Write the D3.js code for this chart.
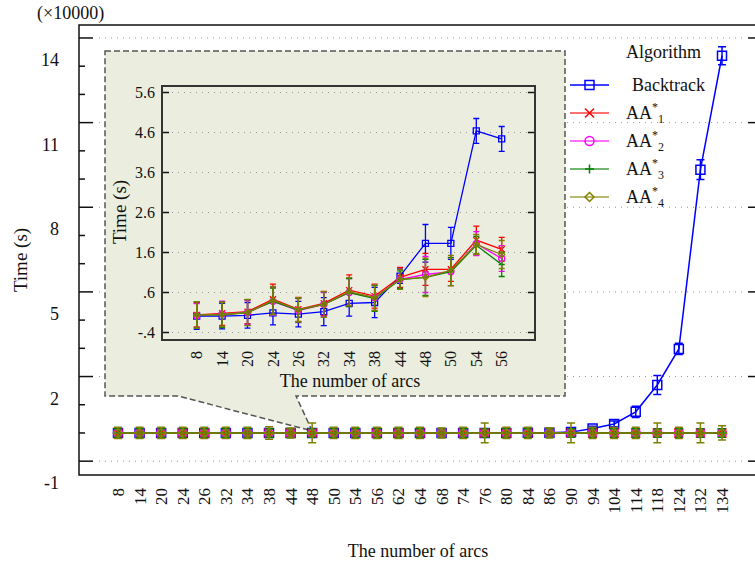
<!DOCTYPE html>
<html>
<head>
<meta charset="utf-8">
<script src="https://cdn.jsdelivr.net/npm/d3@7"></script>
<style>
  body { margin: 0; background: #fff; }
  svg text { font-family: "Liberation Serif", "DejaVu Serif", serif; fill: #111; }
</style>
</head>
<body>
<svg id="chart" width="755" height="568"></svg>
<script>
// Categories (number of arcs)
const mainArcs = ["8","14","20","24","26","32","34","38","44","48","50","54","56",
  "62","64","68","74","76","80","84","86","90","94","104","114","118","124","132","134"];
const insetArcs = mainArcs.slice(0, 13);

// Main chart values, in units of 10000 s
const btMain = [0,0,0,0,0,0,0,0,0.0001,0.0002,0.0002,0.0005,0.0004,
  0.0006,0.0008,0.001,0.0015,0.002,0.003,0.004,0.006,0.03,0.16,0.32,0.75,1.70,2.98,9.33,13.37];
const btMainErr = [0.15,0.15,0.15,0.15,0.15,0.15,0.15,0.15,0.15,0.15,0.15,0.15,0.15,
  0.15,0.15,0.15,0.15,0.15,0.15,0.15,0.15,0.15,0.08,0.1,0.2,0.34,0.2,0.35,0.32];
const aa1Main = [0,0,0,0,0,0,0.0001,0.0001,0.0001,0.0001,0.0001,0.0002,0.0002,
  0.0002,0.0002,0.0003,0.0003,0.0003,0.0004,0.0004,0.0005,0.0005,0.0006,0.0007,0.0008,0.0009,0.001,0.0012,0.0014];
const aa2Main = aa1Main.map(v => v * 0.95);
const aa3Main = aa1Main.map(v => v * 0.93);
const aa4Main = aa1Main.map(v => v * 0.97);
const aaMainErr = [0.15,0.15,0.15,0.15,0.15,0.15,0.15,0.15,0.15,0.15,0.15,0.15,0.15,
  0.15,0.15,0.15,0.15,0.15,0.15,0.15,0.15,0.15,0.15,0.15,0.15,0.15,0.15,0.15,0.15];
const aa4MainErr = [0.2,0.2,0.2,0.2,0.2,0.2,0.2,0.22,0.18,0.35,0.2,0.2,0.2,
  0.2,0.2,0.18,0.2,0.35,0.2,0.2,0.18,0.35,0.2,0.2,0.2,0.35,0.2,0.35,0.25];

// Inset values, in seconds
const btInset = [0.01,0.01,0.03,0.09,0.06,0.12,0.33,0.35,1.01,1.83,1.83,4.64,4.44];
const btInsetErr = [0.33,0.32,0.32,0.3,0.32,0.35,0.32,0.38,0.18,0.47,0.4,0.31,0.31];
const aa1Inset = [0.04,0.08,0.12,0.43,0.18,0.33,0.66,0.51,0.98,1.18,1.18,1.91,1.68];
const aa1InsetErr = [0.3,0.3,0.3,0.38,0.3,0.3,0.38,0.3,0.25,0.4,0.3,0.35,0.3];
const aa2Inset = [0.02,0.06,0.1,0.38,0.15,0.3,0.6,0.47,0.93,1.05,1.12,1.82,1.45];
const aa2InsetErr = [0.3,0.32,0.3,0.35,0.3,0.3,0.35,0.32,0.25,0.45,0.35,0.3,0.32];
const aa3Inset = [0.04,0.04,0.1,0.38,0.16,0.3,0.6,0.45,0.92,0.98,1.12,1.78,1.3];
const aa3InsetErr = [0.33,0.32,0.32,0.33,0.3,0.32,0.35,0.32,0.22,0.45,0.35,0.22,0.3];
const aa4Inset = [0.04,0.05,0.1,0.4,0.17,0.3,0.62,0.47,0.93,0.98,1.15,1.8,1.55];
const aa4InsetErr = [0.33,0.3,0.33,0.35,0.3,0.32,0.35,0.32,0.25,0.48,0.38,0.25,0.35];

const seriesNames = ["Backtrack", "AA*1", "AA*2", "AA*3", "AA*4"];
const seriesColors = ["#0000ff", "#ff0000", "#ff00ff", "#008000", "#808000"];
const seriesMarkers = ["square", "cross", "circle", "plus", "diamond"];

// Builds a marker path of size s centred on 0,0
function markerPath(type, s) {
  let h = s / 2;
  if (type === "square") return `M${-h},${-h}H${h}V${h}H${-h}Z`;
  if (type === "cross") return `M${-h},${-h}L${h},${h}M${-h},${h}L${h},${-h}`;
  if (type === "plus") return `M${-h},0H${h}M0,${-h}V${h}`;
  if (type === "diamond") return `M0,${-h}L${h},0L0,${h}L${-h},0Z`;
  return `M${h},0A${h},${h} 0 1,1 ${-h},0A${h},${h} 0 1,1 ${h},0`;
}

// Draws one series with error bars, line and markers
function drawSeries(g, x, y, cats, vals, errs, i, opt) {
  let color = seriesColors[i];
  let sg = g.append("g");
  // error bars
  cats.forEach((c, k) => {
    let cx = x(c), top = y(vals[k] + errs[k]), bot = y(vals[k] - errs[k]);
    sg.append("path")
      .attr("d", `M${cx},${top}V${bot}M${cx - opt.cap},${top}H${cx + opt.cap}M${cx - opt.cap},${bot}H${cx + opt.cap}`)
      .attr("stroke", color).attr("stroke-width", opt.w).attr("fill", "none");
  });
  // line
  sg.append("path")
    .datum(vals)
    .attr("d", d3.line().x((d, k) => x(cats[k])).y(d => y(d)))
    .attr("stroke", color).attr("stroke-width", opt.w).attr("fill", "none");
  // markers
  sg.selectAll("path.mk")
    .data(vals)
    .enter()
    .append("path")
    .attr("class", "mk")
    .attr("transform", (d, k) => `translate(${x(cats[k])},${y(d)})`)
    .attr("d", markerPath(seriesMarkers[i], opt.size))
    .attr("stroke", color).attr("stroke-width", opt.w).attr("fill", "none");
}

function chart() {
  let svg = d3.select("#chart");

  // main plot frame
  let left = 79, right = 762, top = 25, bottom = 475;
  let x = d3.scalePoint().domain(mainArcs).range([118, 722]);
  let y = d3.scaleLinear().domain([-1.49, 14.46]).range([bottom, top]);

  let majors = [-1, 2, 5, 8, 11, 14];
  let minors = d3.range(-1, 15);

  // dotted grid
  svg.append("g").selectAll("line")
    .data(majors).enter().append("line")
    .attr("x1", left + 20).attr("x2", right - 20)
    .attr("y1", d => y(d)).attr("y2", d => y(d))
    .attr("stroke", "#999").attr("stroke-width", 1).attr("stroke-dasharray", "1,5");

  // ticks on both sides
  let ticks = svg.append("g").attr("stroke", "#111").attr("stroke-width", 1.5);
  minors.forEach(v => {
    let len = majors.includes(v) ? 14 : 6;
    ticks.append("line").attr("x1", left).attr("x2", left + len).attr("y1", y(v)).attr("y2", y(v));
    ticks.append("line").attr("x1", right).attr("x2", right - len).attr("y1", y(v)).attr("y2", y(v));
  });

  // y tick labels (drawn below their gridlines, as in the source figure)
  svg.append("g").selectAll("text")
    .data(majors).enter().append("text")
    .attr("x", 59).attr("y", d => y(d) + 28)
    .attr("text-anchor", "end")
    .style("font-size", "18px")
    .text(d => d);

  svg.append("text").attr("x", 37).attr("y", 19).style("font-size", "18px").text("(\u00d710000)");

  svg.append("text")
    .attr("transform", "translate(27,260) rotate(-90)")
    .attr("text-anchor", "middle")
    .style("font-size", "19px")
    .text("Time (s)");

  // x tick labels, rotated
  svg.append("g").selectAll("text")
    .data(mainArcs).enter().append("text")
    .attr("transform", d => `translate(${x(d)},488) rotate(-90)`)
    .attr("text-anchor", "end")
    .attr("dy", "0.35em")
    .style("font-size", "17px")
    .text(d => d);

  svg.append("text")
    .attr("x", 418).attr("y", 557)
    .attr("text-anchor", "middle")
    .style("font-size", "18px")
    .text("The number of arcs");

  // frame
  svg.append("rect")
    .attr("x", left).attr("y", top).attr("width", right - left).attr("height", bottom - top)
    .attr("fill", "none").attr("stroke", "#111").attr("stroke-width", 1.5);

  // inset panel with callout pointing to the 48 point
  svg.append("path")
    .attr("d", `M105,51H565V396H296L${x("48")},${y(0) - 2}L178,396H105Z`)
    .attr("fill", "#ebeedf").attr("stroke", "#555").attr("stroke-width", 1.5)
    .attr("stroke-dasharray", "6,3");

  // inset chart
  let il = 162, ir = 535, it = 86, ib = 340;
  let ix = d3.scalePoint().domain(insetArcs).range([196.7, 501.7]);
  let iy = d3.scaleLinear().domain([-0.5875, 5.7625]).range([ib, it]);
  let iticks = [-0.4, 0.6, 1.6, 2.6, 3.6, 4.6, 5.6];
  let fmt = v => (Math.round(v * 10) / 10).toString().replace(/^(-?)0\./, "$1.");

  svg.append("g").selectAll("line")
    .data(iticks).enter().append("line")
    .attr("x1", il + 10).attr("x2", ir - 8)
    .attr("y1", d => iy(d)).attr("y2", d => iy(d))
    .attr("stroke", "#999").attr("stroke-width", 1).attr("stroke-dasharray", "1,5");

  let iTickG = svg.append("g").attr("stroke", "#111").attr("stroke-width", 1.5);
  iticks.forEach(v => {
    iTickG.append("line").attr("x1", il).attr("x2", il + 7).attr("y1", iy(v)).attr("y2", iy(v));
    iTickG.append("line").attr("x1", ir).attr("x2", ir - 7).attr("y1", iy(v)).attr("y2", iy(v));
  });

  svg.append("g").selectAll("text")
    .data(iticks).enter().append("text")
    .attr("x", 155).attr("y", d => iy(d))
    .attr("dy", "0.35em")
    .attr("text-anchor", "end")
    .style("font-size", "16px")
    .text(fmt);

  svg.append("text")
    .attr("transform", "translate(126,212) rotate(-90)")
    .attr("text-anchor", "middle")
    .style("font-size", "19px")
    .text("Time (s)");

  svg.append("g").selectAll("text")
    .data(insetArcs).enter().append("text")
    .attr("transform", d => `translate(${ix(d)},351) rotate(-90)`)
    .attr("text-anchor", "end")
    .attr("dy", "0.35em")
    .style("font-size", "16px")
    .text(d => d);

  svg.append("text")
    .attr("x", 350).attr("y", 387)
    .attr("text-anchor", "middle")
    .style("font-size", "18px")
    .text("The number of arcs");

  let insetVals = [btInset, aa1Inset, aa2Inset, aa3Inset, aa4Inset];
  let insetErrs = [btInsetErr, aa1InsetErr, aa2InsetErr, aa3InsetErr, aa4InsetErr];
  let ig = svg.append("g");
  insetVals.forEach((vals, i) => {
    drawSeries(ig, ix, iy, insetArcs, vals, insetErrs[i], i, {cap: 3, w: 1.3, size: 6});
  });

  svg.append("rect")
    .attr("x", il).attr("y", it).attr("width", ir - il).attr("height", ib - it)
    .attr("fill", "none").attr("stroke", "#333").attr("stroke-width", 2);

  // main data
  let mainVals = [btMain, aa1Main, aa2Main, aa3Main, aa4Main];
  let mainErrs = [btMainErr, aaMainErr, aaMainErr, aaMainErr, aa4MainErr];
  let mg = svg.append("g");
  mainVals.forEach((vals, i) => {
    drawSeries(mg, x, y, mainArcs, vals, mainErrs[i], i, {cap: 4, w: 1.5, size: 9});
  });

  // legend
  let lg = svg.append("g");
  lg.append("text").attr("x", 626).attr("y", 58).style("font-size", "18px").text("Algorithm");
  seriesNames.forEach((name, i) => {
    let ly = 85 + i * 28;
    let row = lg.append("g");
    row.append("line").attr("x1", 570).attr("x2", 609).attr("y1", ly).attr("y2", ly)
      .attr("stroke", seriesColors[i]).attr("stroke-width", 1.5)
      .attr("stroke-opacity", i === 0 ? 1 : 0.75);
    row.append("path").attr("transform", `translate(589.5,${ly})`)
      .attr("d", markerPath(seriesMarkers[i], 9))
      .attr("stroke", seriesColors[i]).attr("stroke-width", 1.5).attr("fill", "none");
    let t = row.append("text").attr("y", ly + 6).style("font-size", "18px");
    if (i === 0) {
      t.attr("x", 632).text(name);
    } else {
      t.attr("x", 626);
      t.append("tspan").text("AA");
      t.append("tspan").attr("dy", -8).style("font-size", "12px").text("*");
      t.append("tspan").attr("dy", 12).style("font-size", "12px").text(name.slice(3));
    }
  });
}

chart();
</script>
</body>
</html>
